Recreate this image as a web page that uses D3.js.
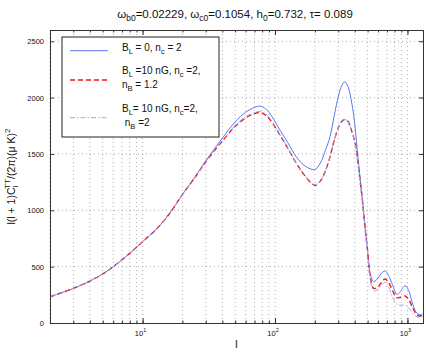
<!DOCTYPE html>
<html>
<head>
<meta charset="utf-8">
<script src="https://cdn.jsdelivr.net/npm/d3@7"></script>
<style>
  body { margin: 0; background: #fff; }
  svg { display: block; font-family: 'Liberation Sans', Arial, sans-serif; }
</style>
</head>
<body>
<svg id="chart" width="426" height="354"></svg>
<script>
// multipoles
const ell = [2, 3, 4, 5, 6, 8, 10, 13, 16, 20, 25, 30, 40, 50, 60, 70, 77, 85, 95, 109, 125, 145, 170, 200, 220, 240, 260, 280, 300, 320, 337, 355, 380, 402, 420, 438, 460, 479, 500, 522, 557, 600, 640, 678, 720, 770, 831, 880, 961, 1020, 1100, 1180, 1250, 1300]

// B_L = 0, n_c = 2
const clNoField = [233, 307, 372, 435, 499, 618, 721, 845, 972, 1140, 1300, 1440, 1640, 1785, 1870, 1912, 1925, 1900, 1830, 1711, 1600, 1474, 1390, 1362, 1420, 1530, 1652, 1840, 2006, 2110, 2140, 2100, 1950, 1741, 1500, 1297, 1060, 854, 640, 440, 366, 400, 445, 461, 420, 340, 254, 275, 331, 290, 160, 86, 72, 80]

// B_L = 10 nG, n_c = 2, n_B = 1.2
const clField12 = [233, 307, 372, 435, 499, 618, 721, 845, 972, 1140, 1295, 1430, 1615, 1745, 1820, 1858, 1868, 1845, 1780, 1667, 1550, 1416, 1300, 1223, 1260, 1350, 1474, 1620, 1730, 1790, 1806, 1790, 1700, 1600, 1450, 1270, 1060, 840, 640, 420, 307, 320, 365, 390, 360, 290, 224, 228, 240, 210, 130, 71, 62, 70]

// B_L = 10 nG, n_c = 2, n_B = 2
const clField2 = [233, 307, 372, 435, 499, 618, 721, 845, 972, 1140, 1297, 1433, 1620, 1752, 1830, 1868, 1878, 1855, 1788, 1672, 1552, 1418, 1302, 1228, 1262, 1352, 1476, 1622, 1732, 1792, 1806, 1788, 1695, 1590, 1435, 1250, 1040, 820, 620, 400, 286, 300, 340, 361, 320, 230, 165, 158, 160, 135, 85, 55, 50, 58]

const yTicks = [0, 500, 1000, 1500, 2000, 2500]
const xDecades = [10, 100, 1000]

const series = [
  { values: clNoField, color: '#5b78f5', width: 1, dash: null },
  { values: clField12, color: '#f01818', width: 1.4, dash: '5,3' },
  { values: clField2, color: '#96a8fa', width: 1, dash: '5,2,1.5,2' }
]

const svg = d3.select('#chart')
const margin = { top: 30, right: 3, bottom: 31, left: 50 }
const width = 426 - margin.left - margin.right
const height = 354 - margin.top - margin.bottom

const x = d3.scaleLog().domain([2, 1310]).range([0, width])
const y = d3.scaleLinear().domain([0, 2600]).range([height, 0])

const g = svg.append('g').attr('transform', `translate(${margin.left},${margin.top})`)

// minor ticks of the log axis
const minorTicks = []
for (let d = 1; d <= 1000; d *= 10) {
  for (let k = 1; k <= 9; k++) {
    const v = d * k
    if (v >= 2 && v <= 1310) minorTicks.push(v)
  }
}

// grid
g.selectAll('.xgrid')
  .data(minorTicks)
  .enter()
  .append('line')
  .attr('x1', (d) => x(d))
  .attr('x2', (d) => x(d))
  .attr('y1', 0)
  .attr('y2', height)
  .attr('stroke', '#999')
  .attr('stroke-width', 0.8)
  .attr('stroke-dasharray', '1,3')

g.selectAll('.ygrid')
  .data(yTicks.slice(1))
  .enter()
  .append('line')
  .attr('x1', 0)
  .attr('x2', width)
  .attr('y1', (d) => y(d))
  .attr('y2', (d) => y(d))
  .attr('stroke', '#999')
  .attr('stroke-width', 0.8)
  .attr('stroke-dasharray', '1,3')

// curves
svg.append('defs').append('clipPath').attr('id', 'clip')
  .append('rect').attr('width', width).attr('height', height)

const line = d3.line()
  .x((d) => x(d[0]))
  .y((d) => y(d[1]))
  .curve(d3.curveCatmullRom.alpha(0.5))

series.forEach((s) => {
  g.append('path')
    .datum(ell.map((l, i) => [l, s.values[i]]))
    .attr('clip-path', 'url(#clip)')
    .attr('fill', 'none')
    .attr('stroke', s.color)
    .attr('stroke-width', s.width)
    .attr('stroke-dasharray', s.dash)
    .attr('d', line)
})

// axes: ticks inward, on both sides
const yAxisL = d3.axisLeft(y).tickValues(yTicks).tickSize(-4).tickPadding(6).tickFormat(d3.format('d'))
const yAxisR = d3.axisRight(y).tickValues(yTicks).tickSize(-4).tickFormat('')
g.append('g').call(yAxisL)
g.append('g').attr('transform', `translate(${width},0)`).call(yAxisR)

const xMinorB = d3.axisBottom(x).tickValues(minorTicks).tickSize(-2.5).tickFormat('')
const xMinorT = d3.axisTop(x).tickValues(minorTicks).tickSize(-2.5).tickFormat('')
const xMajorB = d3.axisBottom(x).tickValues(xDecades).tickSize(-5).tickFormat('')
const xMajorT = d3.axisTop(x).tickValues(xDecades).tickSize(-5).tickFormat('')
g.append('g').attr('transform', `translate(0,${height})`).call(xMinorB)
g.append('g').attr('transform', `translate(0,${height})`).call(xMajorB)
g.append('g').call(xMinorT)
g.append('g').call(xMajorT)

g.selectAll('.domain').attr('stroke', '#333')
g.selectAll('.tick line').attr('stroke', '#333')
g.selectAll('.tick text').attr('font-size', 7.5).attr('fill', '#111')

// decade labels 10^n
const decLabel = g.append('g').selectAll('text')
  .data(xDecades)
  .enter()
  .append('text')
  .attr('x', (d) => x(d) - 2)
  .attr('y', height + 13)
  .attr('text-anchor', 'middle')
  .attr('font-size', 7.5)
  .attr('fill', '#111')
decLabel.append('tspan').text('10')
decLabel.append('tspan').attr('dy', -4).attr('font-size', 5.5).text((d) => Math.round(Math.log10(d)))

// title
const title = svg.append('text')
  .attr('x', 235)
  .attr('y', 18)
  .attr('text-anchor', 'middle')
  .attr('font-size', 11.5)
  .attr('fill', '#111')
function sub(t, s, sz) {
  t.append('tspan').attr('dy', 3).attr('font-size', sz).text(s)
  return t.append('tspan').attr('dy', -3)
}
title.append('tspan').text('ω')
sub(title, 'b0', 8.5).text('=0.02229, ω')
sub(title, 'c0', 8.5).text('=0.1054, h')
sub(title, '0', 8.5).text('=0.732, τ= 0.089')

// axis labels
svg.append('text')
  .attr('x', margin.left + width / 2)
  .attr('y', 348)
  .attr('text-anchor', 'middle')
  .attr('font-size', 11)
  .attr('fill', '#111')
  .text('l')

const ylab = svg.append('text')
  .attr('transform', `translate(15,${margin.top + height / 2}) rotate(-90)`)
  .attr('text-anchor', 'middle')
  .attr('font-size', 10.5)
  .attr('fill', '#111')
ylab.append('tspan').text('l(l + 1)C')
ylab.append('tspan').attr('dy', 3).attr('font-size', 8).text('l')
ylab.append('tspan').attr('dy', -8).attr('dx', -3).attr('font-size', 8).text('TT')
ylab.append('tspan').attr('dy', 5).text('/(2π)(μ K)')
ylab.append('tspan').attr('dy', -5).attr('font-size', 8).text('2')

// legend
const legend = svg.append('g').attr('transform', 'translate(62,37)')
legend.append('rect')
  .attr('width', 157)
  .attr('height', 100)
  .attr('fill', '#fff')
  .attr('stroke', '#222')
  .attr('stroke-width', 1)

const legendRows = [
  { lineY: 13.7, lines: [[['B', ''], ['L', 's'], [' = 0, n', ''], ['c', 's'], [' = 2', '']]], textY: [14] },
  { lineY: 43, lines: [[['B', ''], ['L', 's'], [' =10 nG, n', ''], ['c', 's'], [' =2,', '']], [['n', ''], ['B', 's'], [' = 1.2', '']]], textY: [37, 51.3] },
  { lineY: 80.7, lines: [[['B', ''], ['L', 's'], ['= 10 nG, n', ''], ['c', 's'], ['=2,', '']], [[' n', ''], ['B', 's'], [' =2', '']]], textY: [74.7, 89] }
]

legendRows.forEach((row, i) => {
  const s = series[i]
  legend.append('line')
    .attr('x1', 8)
    .attr('x2', 46)
    .attr('y1', row.lineY)
    .attr('y2', row.lineY)
    .attr('stroke', s.color)
    .attr('stroke-width', s.width)
    .attr('stroke-dasharray', s.dash)
  row.lines.forEach((parts, j) => {
    const t = legend.append('text')
      .attr('x', 60)
      .attr('y', row.textY[j])
      .attr('font-size', 10)
      .attr('fill', '#111')
      .attr('xml:space', 'preserve')
    let low = false
    parts.forEach(([str, kind]) => {
      const ts = t.append('tspan').text(str)
      if (kind === 's' && !low) { ts.attr('dy', 3).attr('font-size', 7.5); low = true }
      else if (kind === 's') ts.attr('font-size', 7.5)
      else if (low) { ts.attr('dy', -3); low = false }
    })
  })
})
</script>
</body>
</html>
